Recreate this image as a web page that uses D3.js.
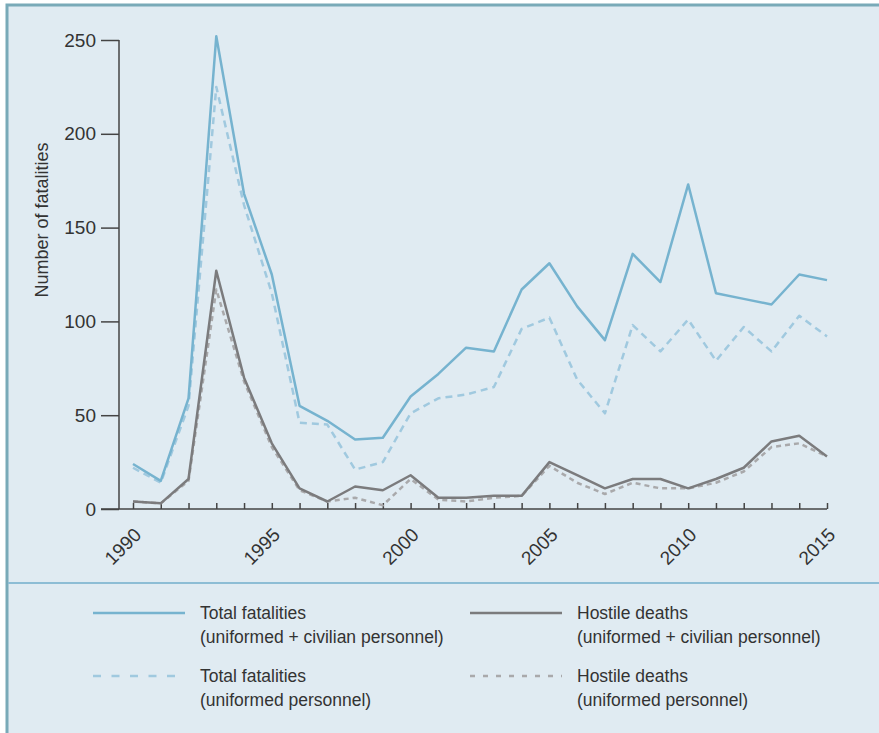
<!DOCTYPE html>
<html>
<head>
<meta charset="utf-8">
<script src="https://cdn.jsdelivr.net/npm/d3@7"></script>
<style>
  body { margin: 0; background: #fff; }
  svg { display: block; }
  text { font-family: "Liberation Sans", Arial, sans-serif; }
  .axis text { fill: #333; font-size: 19px; }
  .axis line, .axis path { stroke: #444; stroke-width: 1.5; }
  .legend text { fill: #333; font-size: 17.5px; }
</style>
</head>
<body>
<div class="chart"></div>
<script>
// Data ---------------------------------------------------------------------
const years = d3.range(1990, 2016);
const totalAll = [24, 15, 59, 252, 168, 125, 55, 47, 37, 38, 60, 72, 86, 84, 117, 131, 108, 90, 136, 121, 173, 115, 112, 109, 125, 122];
const totalUniformed = [22, 14, 55, 225, 162, 115, 46, 45, 21, 25, 51, 59, 61, 65, 96, 102, 69, 51, 98, 84, 101, 79, 97, 84, 103, 92];
const hostileAll = [4, 3, 16, 127, 70, 35, 11, 4, 12, 10, 18, 6, 6, 7, 7, 25, 18, 11, 16, 16, 11, 16, 22, 36, 39, 28];
const hostileUniformed = [4, 3, 15, 117, 68, 33, 10, 4, 6, 2, 16, 5, 4, 6, 7, 23, 14, 8, 14, 11, 11, 14, 20, 33, 35, 28];
const yTicks = [0, 50, 100, 150, 200, 250];
const xLabels = [1990, 1995, 2000, 2005, 2010, 2015];

const series = [
  {values: totalAll, color: "#76b3cf", dash: null, legendDash: null, label: ["Total fatalities", "(uniformed + civilian personnel)"]},
  {values: hostileAll, color: "#7b7b7d", dash: null, legendDash: null, label: ["Hostile deaths", "(uniformed + civilian personnel)"]},
  {values: totalUniformed, color: "#a0c9df", dash: "7,5", legendDash: "8,10.5", label: ["Total fatalities", "(uniformed personnel)"]},
  {values: hostileUniformed, color: "#a9a9ab", dash: "5,4", legendDash: "5,8", label: ["Hostile deaths", "(uniformed personnel)"]}
];

// SVG Dimensions ---------------------------------------------------------------------
const width = 879;
const height = 733;
const margin = {top: 40, right: 52, bottom: 224, left: 133};

const svg = d3.select(".chart")
  .append("svg")
  .attr("width", width)
  .attr("height", height);

// Panel background and frame
svg.append("rect")
  .attr("x", 7).attr("y", 5)
  .attr("width", width + 10).attr("height", height + 10)
  .attr("fill", "#e0ebf2")
  .attr("stroke", "#79aab8")
  .attr("stroke-width", 3);

svg.append("line")
  .attr("x1", 8).attr("x2", width)
  .attr("y1", 583).attr("y2", 583)
  .attr("stroke", "#8dbdd5")
  .attr("stroke-width", 2);

// Scales ---------------------------------------------------------------------
const xScale = d3.scaleLinear()
  .domain([1990, 2015])
  .range([margin.left, width - margin.right]);

const yScale = d3.scaleLinear()
  .domain([0, 250])
  .range([height - margin.bottom, margin.top]);

// Axes ---------------------------------------------------------------------
const yAxis = d3.axisLeft(yScale)
  .tickValues(yTicks)
  .tickSize(18)
  .tickSizeOuter(0)
  .tickPadding(5);

const yG = svg.append("g")
  .attr("class", "axis")
  .attr("transform", `translate(119,0)`)
  .call(yAxis);
yG.select(".domain").attr("d", `M0,${yScale(0)}V${yScale(250)}`);

const xAxis = d3.axisBottom(xScale)
  .tickValues(years)
  .tickSizeInner(-6)
  .tickSizeOuter(0)
  .tickFormat(d => xLabels.includes(d) ? d : "");

const xG = svg.append("g")
  .attr("class", "axis")
  .attr("transform", `translate(0,${yScale(0)})`)
  .call(xAxis);
xG.select(".domain").attr("d", `M${119 - 18},0H${xScale(2015)}`);
xG.selectAll("text")
  .attr("text-anchor", "end")
  .attr("y", 0)
  .attr("dy", 0)
  .attr("transform", "translate(9,27) rotate(-45)");

svg.append("text")
  .attr("transform", `translate(48,220) rotate(-90)`)
  .attr("text-anchor", "middle")
  .attr("fill", "#333")
  .attr("font-size", 18)
  .text("Number of fatalities");

// Lines ---------------------------------------------------------------------
const line = d3.line()
  .x((d, i) => xScale(years[i]))
  .y(d => yScale(d));

[series[3], series[2], series[1], series[0]].forEach(s => {
  svg.append("path")
    .datum(s.values)
    .attr("fill", "none")
    .attr("stroke", s.color)
    .attr("stroke-width", 2.5)
    .attr("stroke-dasharray", s.dash)
    .attr("stroke-linejoin", "round")
    .attr("d", line);
});

// Legend ---------------------------------------------------------------------
const legendPos = [
  {x: 93, y: 613, len: 92}, {x: 470, y: 613, len: 92},
  {x: 93, y: 676, len: 82}, {x: 470, y: 676, len: 92}
];

const legend = svg.append("g").attr("class", "legend");
series.forEach((s, i) => {
  const p = legendPos[i];
  legend.append("line")
    .attr("x1", p.x).attr("x2", p.x + p.len)
    .attr("y1", p.y).attr("y2", p.y)
    .attr("stroke", s.color)
    .attr("stroke-width", 2.5)
    .attr("stroke-dasharray", s.legendDash);
  const t = legend.append("text")
    .attr("x", p.x + 107)
    .attr("y", p.y + 6);
  s.label.forEach((l, j) => {
    t.append("tspan")
      .attr("x", p.x + 107)
      .attr("dy", j === 0 ? 0 : 24)
      .text(l);
  });
});
</script>
</body>
</html>
